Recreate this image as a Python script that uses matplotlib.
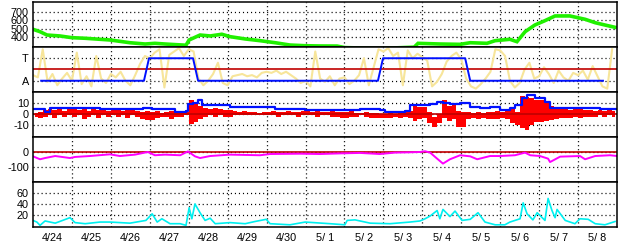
import numpy as np
import matplotlib
matplotlib.use("Agg")
import matplotlib.pyplot as plt

plt.rcParams['font.family'] = ['Liberation Sans', 'DejaVu Sans']
plt.rcParams['lines.scale_dashes'] = False

# ---------------- data (time in days from 4/24 00:00) ----------------
day_labels = ["4/24", "4/25", "4/26", "4/27", "4/28", "4/29", "4/30",
              "5/ 1", "5/ 2", "5/ 3", "5/ 4", "5/ 5", "5/ 6", "5/ 7", "5/ 8"]

green_t = [0, 0.18, 0.36, 0.69, 1.0, 1.34, 1.98, 2.49, 2.88, 3.13, 3.39, 3.65, 3.93,
           4.01, 4.29, 4.55, 4.85, 5.06, 5.45, 5.83, 6.22, 6.60, 6.99, 7.37, 7.81,
           8.01, 8.91, 9.79, 9.89, 10.45, 10.97, 11.23, 11.66, 11.87, 12.25, 12.43,
           12.64, 12.89, 13.15, 13.41, 13.79, 14.18, 14.44, 14.69, 14.95]
green_v = [494, 466, 427, 416, 396, 389, 369, 337, 322, 330, 322, 315, 308,
           369, 427, 416, 436, 408, 381, 361, 337, 310, 302, 299, 298,
           280, 270, 285, 330, 322, 318, 337, 330, 361, 377, 349,
           466, 544, 595, 650, 650, 611, 571, 544, 517]

# pale yellow scatter-like series, 8 samples per day (A=1, T=3)
yellow_v = [1.5, 1.3, 3.8, 0.9, 1.6, 0.6, 1.2, 1.7,
            1.0, 3.5, 0.7, 1.4, 0.5, 3.2, 1.2, 0.8,
            1.6, 1.3, 1.8, 1.0, 0.6, 1.5, 2.5, 3.2,
            3.0, 3.5, 3.8, 0.4, 3.3, 3.6, 3.9, 3.2,
            3.8, 3.6, 1.2, 0.6, 1.0, 1.6, 2.6, 0.8,
            0.6, 1.4, 1.5, 1.6, 1.4, 1.5, 1.3, 1.7,
            1.8, 1.7, 1.9, 1.6, 1.8, 1.5, 1.2, 0.8,
            1.0, 0.5, 3.6, 1.2, 0.9, 1.4, 0.6, 1.2,
            1.3, 0.7, 1.0, 1.5, 3.0, 0.6, 2.2, 3.8,
            3.6, 3.9, 3.2, 3.5, 0.6, 3.7, 3.0, 3.4,
            3.1, 2.8, 0.5, 0.9, 1.6, 2.7, 3.2, 3.5,
            2.9, 1.2, 0.5, 0.3, 0.7, 1.2, 1.8, 3.8,
            3.7, 3.2, 1.0, 0.4, 0.8, 2.0, 2.6, 1.2,
            1.4, 2.2, 1.6, 0.8, 1.9, 1.3, 1.0, 1.7,
            1.5, 1.9, 1.1, 2.3, 1.4, 0.5, 0.3, 3.8]

mode_t = [0.21, 2.85, 2.98, 4.11, 4.24, 8.86, 8.99, 11.10, 11.23, 14.64]
mode_v = [1, 1, 3, 3, 1, 1, 3, 3, 1, 1]

blue_t = [0, 0.31, 0.44, 1.72, 2.83, 2.88, 3.06, 3.52, 3.65, 3.93, 3.98, 4.11, 4.24,
          4.34, 4.68, 5.06, 5.45, 5.83, 6.22, 6.99, 8.01, 8.40, 8.91, 9.04, 9.56,
          9.68, 9.94, 10.20, 10.38, 10.53, 10.71, 10.97, 11.23, 11.48, 11.74, 12.00,
          12.25, 12.38, 12.56, 12.69, 12.89, 13.15, 13.28, 13.79, 14.56, 15.0]
blue_v = [4.5, 2.4, 5.4, 5.0, 5.5, 6.0, 4.8, 4.6, 2.4, 3.0, 9.0, 10, 13,
          8.5, 8.5, 7.0, 7.0, 6.5, 4.8, 3.9, 4.0, 4.5, 3.8, 2.4, 2.8,
          8.5, 8.5, 9.0, 11.5, 10, 9.0, 10, 7.0, 6.0, 7.0, 4.0,
          6.0, 8.5, 14.5, 18, 14.5, 11.5, 6.0, 5.4, 4.8, 4.8]

# red series: high / low of each 3-hour bin (8 bins per day)
red_hi = [1, 2, 4, 5, 4, 5, 3, 5,
          5, 4, 5, 3, 5, 4, 5, 3,
          4, 5, 3, 4, 5, 3, 2, 3,
          2, 3, 1, 2, 3, 2, 1, 2,
          13, 11, 8, 6, 5, 6, 5, 4,
          4, 3, 2, 3, 2, 2, 1, 2,
          2, 3, 2, 2, 3, 2, 2, 3,
          3, 2, 3, 2, 2, 3, 2, 2,
          2, 3, 1, 1, 2, 1, 1, 0,
          0, 1, 0, 1, 2, 3, 8, 7,
          7, 2, -2, 0, 13, 8, 10, 3,
          2, 2, 1, 2, 1, 2, 2, 3,
          2, 3, 5, 2, 17, 16, 15, 13,
          13, 12, 8, 6, 5, 5, 4, 5,
          5, 4, 4, 3, 4, 3, 4, 3]
red_lo = [-2, -3, -2, -1, -3, -1, -2, -1,
          -2, -1, -4, -2, -1, -3, -1, -2,
          -1, -2, -1, -3, -1, -2, -4, -5,
          -5, -3, -2, -2, -4, -2, -2, -1,
          -9, -7, -4, -2, -1, -2, -1, -2,
          -2, -1, -1, -1, -1, -1, -1, -1,
          -1, -1, -2, -1, -1, -1, -2, -1,
          -1, -1, -2, -1, -1, -2, -2, -3,
          -3, -2, -2, -1, -2, -3, -3, -3,
          -3, -3, -2, -3, -2, -3, -6, -4,
          -3, -8, -11, -8, -3, -6, -4, -11,
          -11, -4, -3, -4, -3, -4, -4, -4,
          -3, -4, -8, -10, -12, -14, -10, -7,
          -7, -6, -5, -4, -3, -3, -3, -2,
          -3, -2, -2, -2, -1, -2, -1, -2]

mag_t = [0, 0.18, 0.31, 0.57, 0.95, 1.08, 1.46, 1.98, 2.23, 2.62, 2.95, 3.13, 3.39,
         3.78, 3.98, 4.16, 4.29, 4.55, 5.06, 5.83, 6.09, 6.86, 7.37, 7.89, 8.40,
         8.91, 9.30, 9.68, 9.94, 10.07, 10.20, 10.38, 10.53, 10.71, 10.97, 11.23,
         11.41, 11.74, 12.00, 12.38, 12.64, 12.77, 13.02, 13.23, 13.28, 13.54,
         14.05, 14.18, 14.44, 14.82, 15.0]
mag_v = [-28, -47, -39, -26, -39, -32, -26, -15, -26, -17, 0, -21, -17,
         -21, 4, -28, -39, -26, -17, -21, -13, -11, -13, -9, -6,
         -13, -4, -2, 0, 5, -4, -43, -75, -47, -21, -28,
         -47, -26, -26, -21, -4, -21, -26, -43, -65, -30,
         -26, -47, -26, -21, -26]

cyan_t = [0, 0.10, 0.18, 0.31, 0.57, 0.95, 1.08, 1.34, 1.72, 1.98, 2.49, 2.90, 3.06,
          3.19, 3.31, 3.52, 3.78, 3.93, 4.01, 4.08, 4.16, 4.29, 4.42, 4.55, 4.68,
          5.06, 5.45, 5.70, 5.99, 6.09, 6.60, 6.99, 7.63, 8.01, 8.07, 8.27, 8.66,
          9.17, 9.68, 9.94, 10.07, 10.20, 10.38, 10.45, 10.53, 10.71, 10.84, 11.02,
          11.23, 11.43, 11.61, 11.87, 12.12, 12.25, 12.51, 12.59, 12.69, 12.84,
          12.95, 13.15, 13.23, 13.33, 13.41, 13.46, 13.67, 13.92, 14.05, 14.26,
          14.44, 14.69, 14.95]
cyan_v = [10, 7, 1, 9, 5, 15, 6, 4, 7, 7, 5, 10, 22,
          7, 13, 4, 4, 1, 33, 13, 40, 24, 10, 14, 4,
          6, 4, 8, 12, 4, 2, 7, 4, 2, 10, 11, 5,
          4, 7, 9, 13, 18, 28, 13, 30, 17, 27, 10,
          12, 24, 7, 2, 2, 7, 13, 42, 22, 11,
          24, 10, 50, 28, 15, 30, 10, 4, 13, 12,
          4, 2, 8]

# ---------------- layout ----------------
W_PX, H_PX = 628, 244
fig = plt.figure(figsize=(W_PX / 100, H_PX / 100), dpi=100)
left, right = 33, 617
tops = [2, 47, 92, 137, 182]
ph = 45
axes = []
for tp in tops:
    ax = fig.add_axes([left / W_PX, (H_PX - tp - ph) / H_PX,
                       (right - left) / W_PX, ph / H_PX])
    axes.append(ax)

dot = (0, (0.8, 2.1))
for ax in axes:
    ax.set_xlim(0, 15)
    ax.set_xticks(np.arange(1, 15))
    ax.set_xticks(np.arange(15) + 0.5, minor=True)
    ax.tick_params(axis='x', which='both', length=0, labelbottom=False)
    ax.tick_params(axis='y', length=0, pad=3, labelsize=7.8)
    ax.grid(True, which='major', color='black', linestyle=dot, linewidth=0.9)
    for s in ax.spines.values():
        s.set_linewidth(1.1)
        s.set_color('black')
    ax.set_axisbelow(True)

ref_red = '#C00000'

# panel 1: green
a1 = axes[0]
a1.plot(green_t, green_v, color='#20F000', lw=2.6, solid_joinstyle='miter')
a1.set_ylim(287, 813)
a1.set_yticks([400, 500, 600, 700])

# panel 2: yellow + mode
a2 = axes[1]
yt = np.arange(len(yellow_v)) / 8.0
a2.plot(yt, yellow_v, color='#F7E59A', lw=1.5)
a2.axhline(2, color=ref_red, lw=1.2)
a2.plot(mode_t, mode_v, color='#0010FF', lw=1.4)
a2.set_ylim(0, 4)
a2.set_yticks([1, 3])
a2.set_yticklabels(['A', 'T'])

# panel 3: blue + red
a3 = axes[2]
rt = np.arange(len(red_hi)) / 8.0 + 1 / 16.0
a3.plot(blue_t, blue_v, color='#0010FF', lw=1.6, drawstyle='steps-post')
a3.fill_between(rt, red_lo, red_hi, step='mid', color='#FF0000', lw=0)
a3.axhline(0, color=ref_red, lw=1.2)
a3.set_ylim(-20.5, 20.3)
a3.set_yticks([-10, 0, 10])
a3.set_yticklabels(['-10', '0', '10'])

# panel 4: magenta
a4 = axes[3]
a4.axhline(0, color=ref_red, lw=1.2)
a4.plot(mag_t, mag_v, color='#FF00FF', lw=1.4)
a4.set_ylim(-194, 97)
a4.set_yticks([-100, 0])
a4.set_yticklabels(['-100', '0'])

# panel 5: cyan
a5 = axes[4]
a5.plot(cyan_t, cyan_v, color='#00F0F0', lw=1.2)
a5.set_ylim(-2, 80)
a5.set_yticks([20, 40, 60])
a5.set_xticks(np.arange(15) + 0.5, minor=True)
a5.set_xticklabels(day_labels, minor=True)
a5.tick_params(axis='x', which='minor', labelbottom=True, labelsize=7.8, pad=4)

fig.savefig('out.png', dpi=100, facecolor='white')
